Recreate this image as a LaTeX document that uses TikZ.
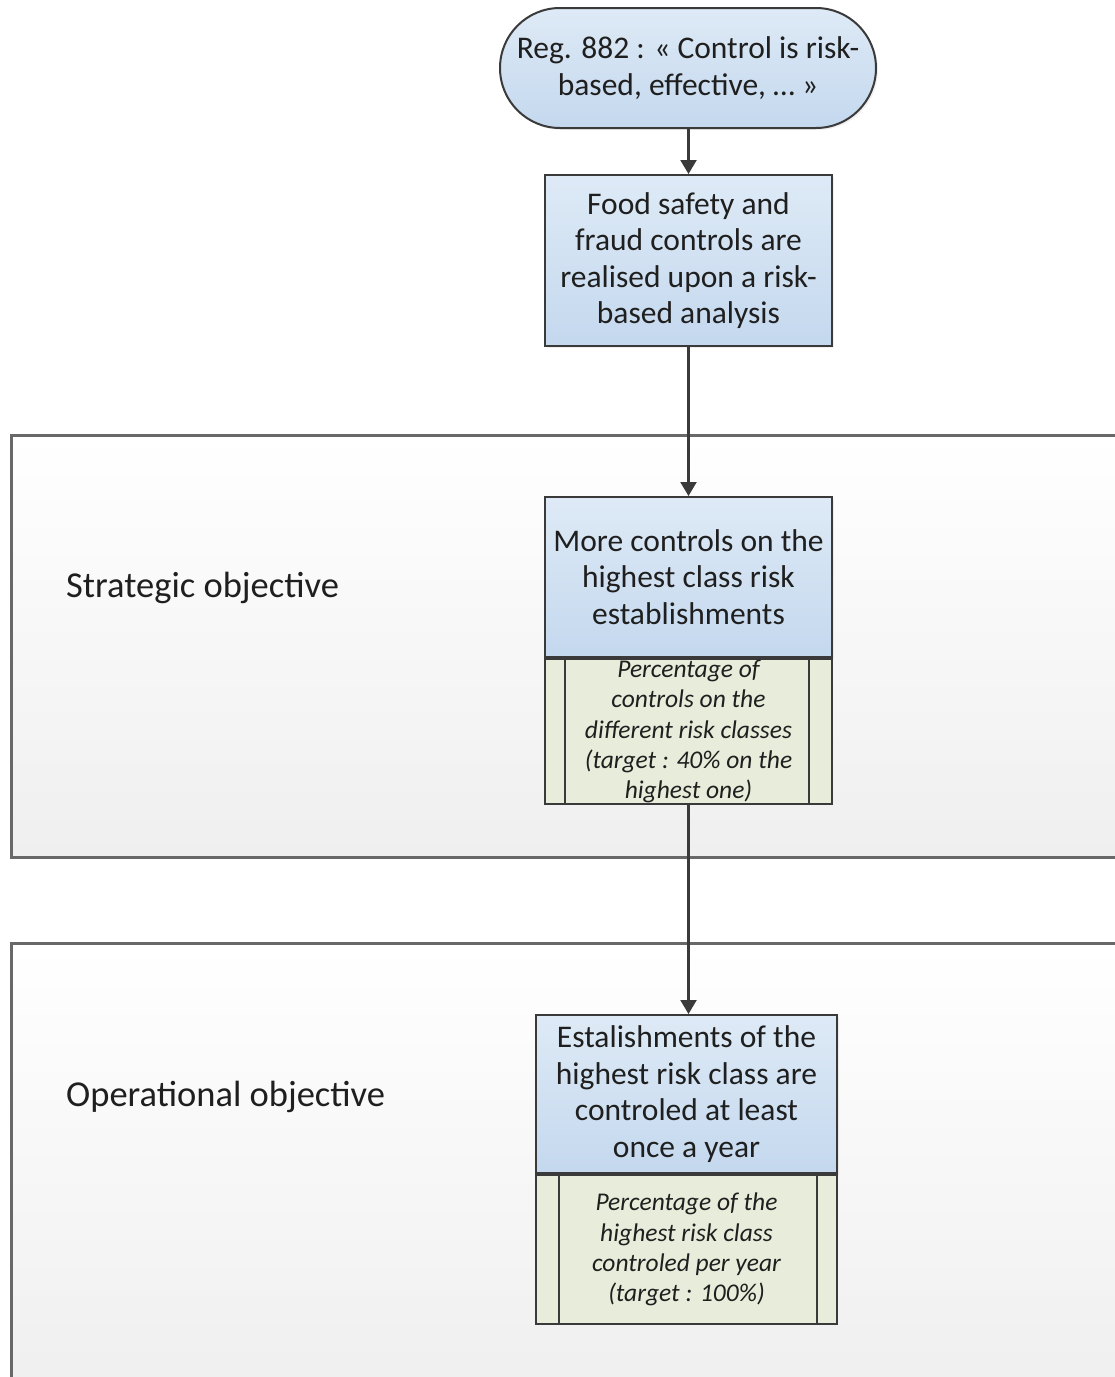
\documentclass[tikz,border=0pt]{standalone}
\usepackage{fontspec}
\setmainfont{Carlito}
\usetikzlibrary{arrows.meta,calc,shadows}
\definecolor{bluetop}{HTML}{DEEAF6}
\definecolor{bluebot}{HTML}{C4D8EE}
\definecolor{greenfill}{HTML}{E8ECDA}
\definecolor{edge}{HTML}{3A3A3A}
\definecolor{laneedge}{HTML}{686868}
\definecolor{lanebot}{HTML}{EFEFEF}
\definecolor{txt}{HTML}{1F1F1F}
\tikzset{
  boxtext/.style={font=\fontsize{31.5}{36.5}\selectfont, text=txt, align=center},
  bluebox/.style={boxtext, draw=edge, line width=2pt, top color=bluetop, bottom color=bluebot,
    inner sep=0pt, drop shadow={opacity=0.12, shadow xshift=2pt, shadow yshift=-2pt}},
  greenbox/.style={draw=edge, line width=2pt, fill=greenfill, inner sep=0pt, text=txt,
    font=\fontsize{25.5}{30.3}\selectfont\itshape, align=center},
  terminal/.style={bluebox, rounded corners=60pt},
  lane/.style={draw=laneedge, line width=3pt, top color=white, bottom color=lanebot},
  lanelabel/.style={font=\fontsize{36.5}{42}\selectfont, text=txt, anchor=west, inner sep=0pt},
  flow/.style={draw=edge, line width=2.2pt, -{Triangle[width=16pt,length=14pt]}},
  innerline/.style={draw=edge, line width=2pt}
}
\begin{document}
\begin{tikzpicture}[x=1pt,y=-1pt]
\useasboundingbox (0,0) rectangle (1115,1377);
\clip (0,0) rectangle (1115,1377);
% lanes
\path[lane] (11,435) rectangle (1130,857);
\path[lane] (11,943) rectangle (1130,1395);
\node[lanelabel] (l1) at (66,588) {Strategic objective};
\node[lanelabel] (l2) at (66,1097) {Operational objective};
% nodes
\node[terminal, minimum width=376pt, minimum height=120pt] (reg) at (688,68)
  {Reg. 882 : « Control is risk-\\based, effective, … »};
\node[bluebox, minimum width=287pt, minimum height=171pt] (b1) at (688.5,260.5)
  {Food safety and\\fraud controls are\\realised upon a risk-\\based analysis};
\node[bluebox, minimum width=287pt, minimum height=160pt] (b2) at (688.5,577)
  {More controls on the\\highest class risk\\establishments};
\node[greenbox, minimum width=287pt, minimum height=145pt, anchor=north] (g2) at (b2.south)
  {Percentage of\\controls on the\\different risk classes\\(target : 40\% on the\\highest one)};
\node[bluebox, minimum width=301pt, minimum height=158pt] (b3) at (686.5,1094)
  {Estalishments of the\\highest risk class are\\controled at least\\once a year};
\node[greenbox, minimum width=301pt, minimum height=149pt, anchor=north] (g3) at (b3.south)
  {Percentage of the\\highest risk class\\controled per year\\(target : 100\%)};
% inner lines of the green parts
\draw[innerline] ($(g2.north west)+(21,0)$) -- ($(g2.south west)+(21,0)$);
\draw[innerline] ($(g2.north east)+(-24,0)$) -- ($(g2.south east)+(-24,0)$);
\draw[innerline] ($(g3.north west)+(24,0)$) -- ($(g3.south west)+(24,0)$);
\draw[innerline] ($(g3.north east)+(-21,0)$) -- ($(g3.south east)+(-21,0)$);
% connectors
\draw[flow] (reg.south -| b1.north) -- (b1.north);
\draw[flow] (b1.south) -- (b2.north);
\draw[flow] (g2.south) -- (g2.south |- b3.north);
\end{tikzpicture}
\end{document}
